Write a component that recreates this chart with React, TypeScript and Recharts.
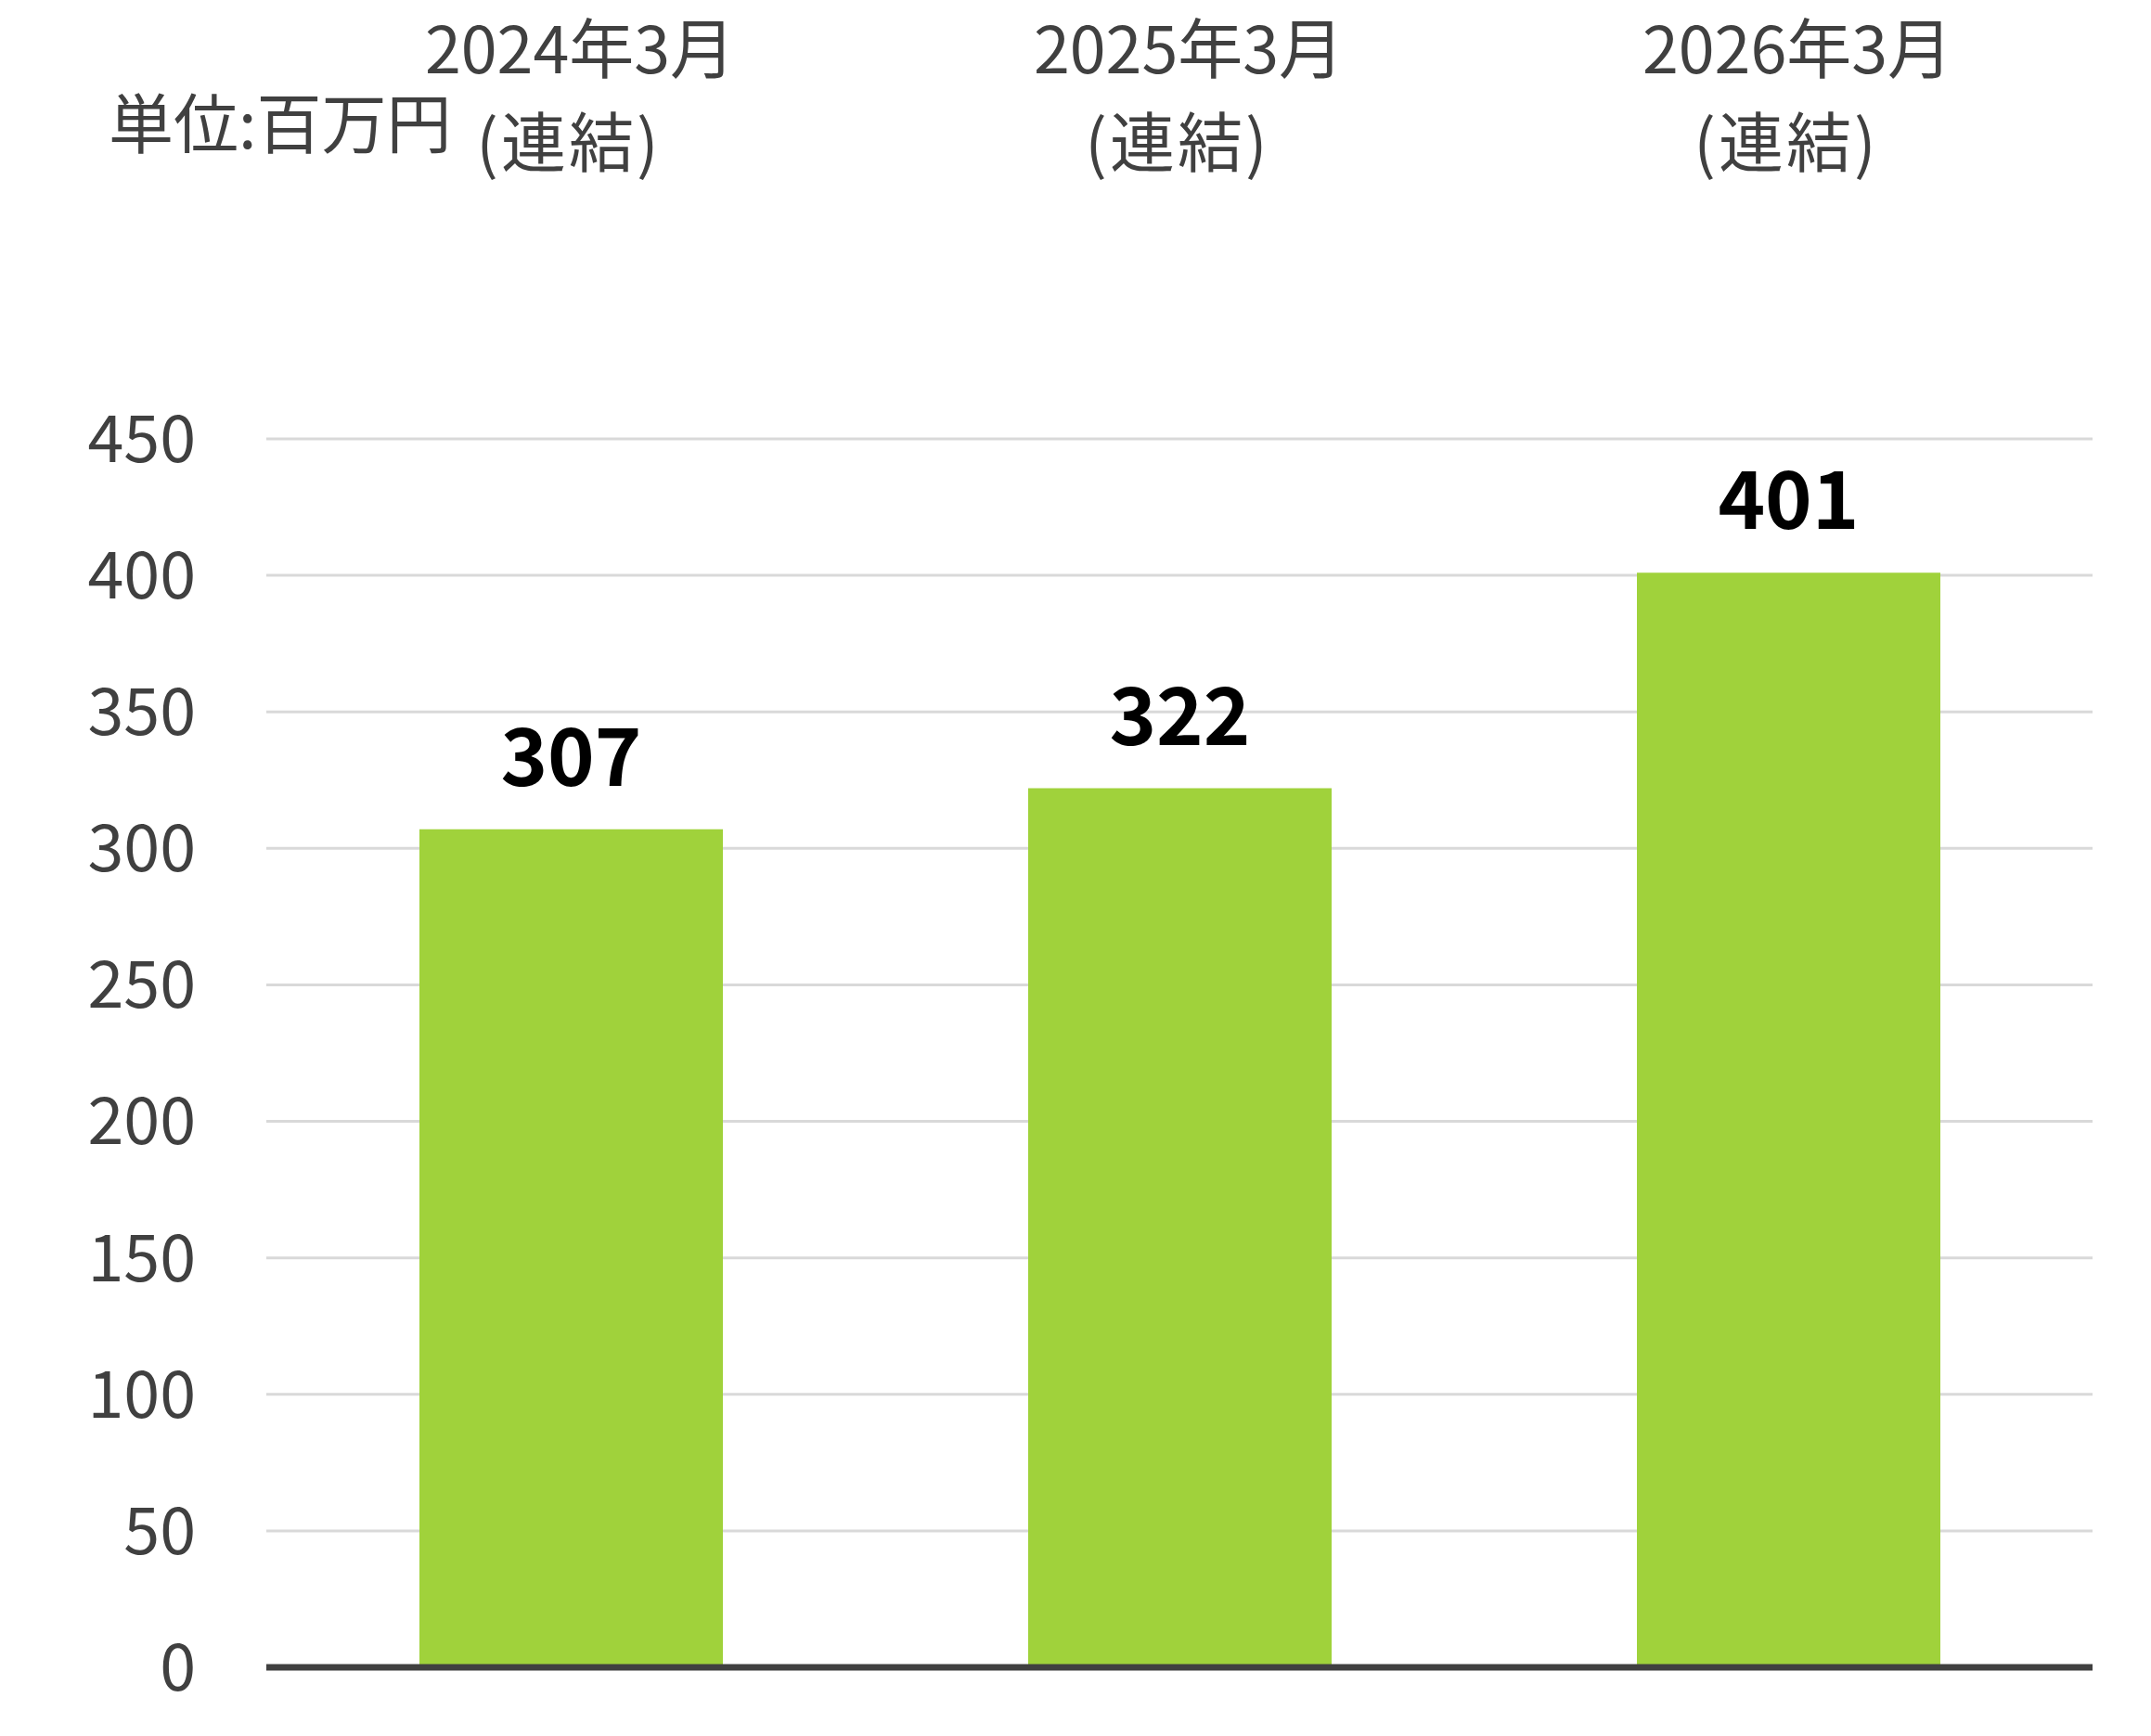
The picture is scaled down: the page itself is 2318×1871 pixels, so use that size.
import { BarChart, Bar, XAxis, YAxis, CartesianGrid, ReferenceLine, LabelList } from 'recharts'

const categories = ['2024年3月', '2025年3月', '2026年3月']
const subLabels = ['(連結)', '(連結)', '(連結)']
const values = [307, 322, 401]
const yTicks = [0, 50, 100, 150, 200, 250, 300, 350, 400, 450]
const unitLabel = '単位:百万円'

const FONT = '"Noto Sans CJK JP", "Noto Sans", sans-serif'
const TEXT_COLOR = '#404040'

const chartData = categories.map((name, i) => ({ name, value: values[i] }))

function TopTick(props: any) {
  const { x, y, payload, index } = props
  return (
    <g>
      <text x={x} y={y} dx={10} dy={-394} textAnchor="middle" fill={TEXT_COLOR} fontSize={70} fontFamily={FONT}>
        {payload.value}
      </text>
      <text x={x} y={y} dx={-2} dy={-293} textAnchor="middle" fill={TEXT_COLOR} fontSize={70} fontFamily={FONT} letterSpacing={3}>
        {subLabels[index]}
      </text>
    </g>
  )
}

export default function App() {
  return (
    <div style={{ position: 'absolute', left: 0, top: 0, width: 2318, height: 1871, background: '#fff' }}>
      <div
        style={{
          position: 'absolute',
          left: 117,
          top: 95,
          fontSize: 70,
          lineHeight: 1,
          fontFamily: FONT,
          color: TEXT_COLOR,
          whiteSpace: 'nowrap',
        }}
      >
        {unitLabel}
      </div>
      <BarChart
        width={2318}
        height={1871}
        data={chartData}
        margin={{ top: 0, right: 63, left: 0, bottom: 74 }}
      >
        <CartesianGrid stroke="#D9D9D9" strokeWidth={3} vertical={false} />
        <XAxis
          dataKey="name"
          orientation="top"
          height={473}
          axisLine={false}
          tickLine={false}
          tickSize={0}
          tickMargin={0}
          interval={0}
          tick={<TopTick />}
        />
        <YAxis
          width={287}
          domain={[0, 450]}
          ticks={yTicks}
          axisLine={false}
          tickLine={false}
          tickSize={0}
          tickMargin={76}
          tick={{ fill: TEXT_COLOR, fontSize: 70, fontFamily: FONT }}
        />
        <Bar dataKey="value" fill="#A0D23B" barSize={327} isAnimationActive={false}>
          <LabelList
            dataKey="value"
            position="top"
            offset={47}
            fill="#000"
            fontSize={86}
            fontWeight="bold"
            fontFamily={FONT}
          />
        </Bar>
        <ReferenceLine y={0} stroke={TEXT_COLOR} strokeWidth={7} />
      </BarChart>
    </div>
  )
}
